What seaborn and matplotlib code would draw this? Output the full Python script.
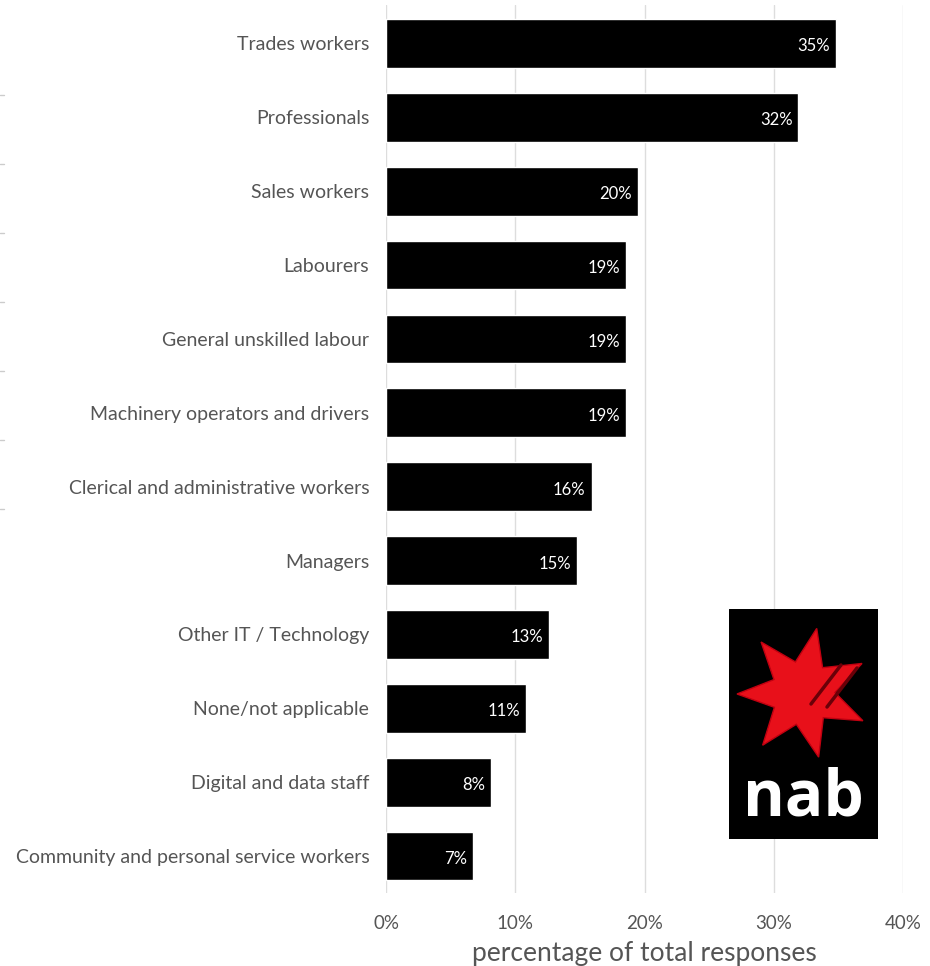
import numpy as np
import pandas as pd
import matplotlib
matplotlib.use("Agg")
import matplotlib.pyplot as plt
from matplotlib.patches import Polygon, Rectangle
from matplotlib.lines import Line2D
import seaborn as sns

categories = [
    "Trades workers",
    "Professionals",
    "Sales workers",
    "Labourers",
    "General unskilled labour",
    "Machinery operators and drivers",
    "Clerical and administrative workers",
    "Managers",
    "Other IT / Technology",
    "None/not applicable",
    "Digital and data staff",
    "Community and personal service workers",
]
shares = [34.8, 31.9, 19.5, 18.6, 18.6, 18.6, 15.9, 14.8, 12.6, 10.8, 8.1, 6.7]
x_ticks = [0, 10, 20, 30, 40]
x_tick_labels = ["0%", "10%", "20%", "30%", "40%"]

df = pd.DataFrame({"occupation": categories, "share": shares})

sns.set_theme(style="white")
plt.rcParams["font.family"] = ["Lato", "DejaVu Sans"]

GREY = "#555555"
fig = plt.figure(figsize=(9.3, 9.66), dpi=100)
ax = fig.add_axes([386 / 930, 1 - 893 / 966, (903 - 386) / 930, (893 - 5) / 966])

sns.barplot(data=df, y="occupation", x="share", orient="h", color="black",
            saturation=1, width=0.66, ax=ax, zorder=3)

for patch, val in zip(ax.patches, df["share"]):
    y = patch.get_y() + patch.get_height() / 2
    ax.text(val - 0.45, y + 0.04, f"{val:.0f}%", color="white", ha="right",
            va="center", fontsize=12, zorder=4)

ax.set_xlim(0, 40)
ax.set_ylim(11.5, -0.52)
ax.set_xticks(x_ticks)
ax.set_xticklabels(x_tick_labels, fontsize=13.5, color=GREY)
ax.tick_params(axis="x", length=0, pad=16)
ax.tick_params(axis="y", length=0, pad=12, labelsize=14, labelcolor=GREY)
ax.set_ylabel("")
ax.set_xlabel("percentage of total responses", fontsize=19, color=GREY, labelpad=6)
for s in ax.spines.values():
    s.set_visible(False)
ax.grid(axis="x", color="#dddddd", linewidth=1, zorder=0)
ax.grid(axis="y", visible=False)

# faint marks on the left margin
for yy in [95, 164, 233, 302, 371, 440, 509]:
    fig.add_artist(Line2D([0, 4 / 930], [1 - yy / 966] * 2, color="#cccccc",
                          linewidth=1, transform=fig.transFigure))

# NAB logo panel
lx0, ly0, lw, lh = 729, 609, 149, 230
lax = fig.add_axes([lx0 / 930, 1 - (ly0 + lh) / 966, lw / 930, lh / 966])
lax.set_xlim(0, lw)
lax.set_ylim(lh, 0)
lax.axis("off")
lax.add_patch(Rectangle((0, 0), lw, lh, color="black"))

cx, cy = 74, 84
r_out, r_in = 66, 32
rot = np.deg2rad(12)
pts = []
for k in range(14):
    ang = rot + k * np.pi / 7
    r = r_out if k % 2 == 0 else r_in
    pts.append((cx + r * np.sin(ang), cy - r * np.cos(ang)))
lax.add_patch(Polygon(pts, closed=True, facecolor="#e8101a", edgecolor="#c00010", linewidth=1))
lax.plot([82, 112], [95, 56], color="#6a0008", linewidth=2.5, solid_capstyle="round")
lax.plot([98, 128], [98, 59], color="#6a0008", linewidth=2.5, solid_capstyle="round")
lax.text(lw / 2, 190, "nab", color="white", ha="center", va="center",
         fontsize=46, fontweight="bold", family=["Open Sans", "DejaVu Sans"])

fig.savefig("out.png", dpi=100)
